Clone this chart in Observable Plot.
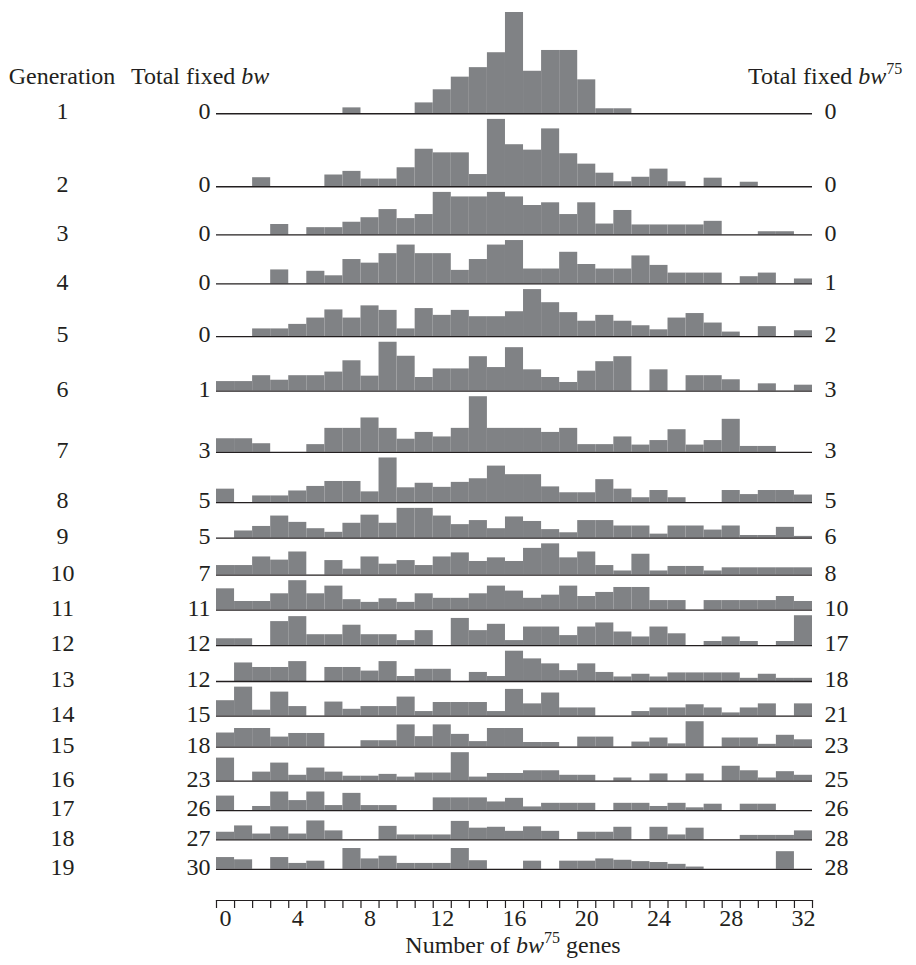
<!DOCTYPE html>
<html>
<head>
<meta charset="utf-8">
<script src="https://cdn.jsdelivr.net/npm/d3@7"></script>
<script src="https://cdn.jsdelivr.net/npm/@observablehq/plot@0.6"></script>
<style>
  html, body { margin: 0; padding: 0; background: #fff; }
  #wrap { position: relative; width: 916px; height: 965px; font-family: "Liberation Serif", "Times New Roman", serif; color: #231f20; }
  .lab { position: absolute; font-size: 24px; line-height: 1; white-space: nowrap; }
  .lab sup { font-size: 16px; position: relative; top: -3px; vertical-align: top; line-height: 1; }
</style>
</head>
<body>
<div id="wrap">
  <div class="lab" style="left:62px; top:76px; transform:translate(-50%,-50%);">Generation</div>
  <div class="lab" style="left:131px; top:76px; transform:translate(0,-50%);">Total fixed <i>bw</i></div>
  <div class="lab" style="left:748px; top:76px; transform:translate(0,-50%);">Total fixed <i>bw</i><sup>75</sup></div>
  <div class="lab" style="left:513px; top:945px; transform:translate(-50%,-50%);">Number of <i>bw</i><sup>75</sup> genes</div>
</div>
<script>
// ---- data: number of populations (bar height) per count of bw75 genes (0..32), one array per generation
const genes = d3.range(0, 33);
const g1  = [0,0,0,0,0,0,0,1.3,0,0,0,2.4,5.3,8.1,10.2,13.5,22.4,9.4,14,14,7.5,1.1,1.1,0,0,0,0,0,0,0,0,0,0];
const g2  = [0,0,2,0,0,0,2.6,3.4,1.7,1.7,4.2,8.3,7.5,7.5,2.7,14.9,9.3,8.1,12.8,7.3,5,3,1.1,2.1,3.9,1.1,0,1.9,0,1,0,0,0];
const g3  = [0,0,0,2.3,0,1.6,1.6,2.8,3.8,5.6,3.6,4.5,9.4,8.4,8.4,9.4,8.4,6.5,7.1,4.5,7.1,2.4,5.4,2.2,2.2,2.2,2.2,3,0,0,0.7,0.7,0];
const g4  = [0,0,0,3.1,0,2.8,1.8,5.4,4.6,6.7,8.6,6.7,6.7,3,5.4,8.6,9.6,3.3,3.3,7,4.3,3.3,3.3,6.2,4.1,2.4,2.4,2.4,0,1.6,2.4,0,1.1];
const g5  = [0,0,1.7,1.7,2.7,4.1,5.9,4.1,6.8,5.8,1.7,6.2,4.7,5.8,4.4,4.4,5.5,10.4,7.5,5.3,3.4,4.7,3.4,2.4,1.5,4.1,5.1,3,1,0,2.2,0,1.3];
const g6  = [2.1,2.1,3.4,2.4,3.4,3.4,4.2,6.7,3.3,10.8,7.7,3,4.9,4.9,7.6,5.2,9.6,4.7,3,1.9,4.4,6.5,7.6,0,4.7,0,3.4,3.4,2.5,0,1.6,0,1.3];
const g7  = [3,3,1.9,0,0,1.7,5.3,5.3,7.6,5.3,2.9,4.4,3.4,5.3,12.3,5.3,5.3,5.3,4.4,5.3,1.7,1.7,3.4,1.6,2.6,5,1.6,2.6,7.3,1.3,1.3,0,0];
const g8  = [3,0,1.5,1.5,2.6,3.6,4.7,4.7,2.4,9.9,3.3,4.3,3.4,4.5,5.3,8.1,6.2,6.2,3.5,2.2,2.2,5.1,3,1.1,2.7,1.1,0,0,2.7,1.8,2.7,2.7,1.7];
const g9  = [0,1.6,2.6,4.9,3.5,2.1,1.3,3.3,5.1,3.3,6.6,6.6,4.9,3,3.9,2.1,4.7,3.7,1.9,1.2,3.9,3.9,2.7,2.7,0.9,2.7,2.7,1.8,2.7,0.6,0.6,2.4,0.4];
const g10 = [2.1,2.1,4,3.3,5.1,0,3.2,1.3,4,2.4,3.2,2.1,4,4.9,3,3.8,3,5.9,6.9,3.8,5.1,2.1,0.9,4.6,0.9,1.9,1.9,0.9,1.6,1.6,1.6,1.6,1.6];
const g11 = [4.7,1.9,1.9,3.6,6.5,3.6,5.3,2.3,1.7,2.5,1.7,3.6,2.6,2.6,3.6,5.3,4.2,2.6,3.3,5.3,3,3.9,5,5,2.1,2.1,0,2.1,2.1,2.1,2.1,3,1.9];
const g12 = [1.5,1.5,0,5.3,6.4,2.4,2.4,4.5,2.4,2.4,1.1,3.3,0,6,3.3,4.7,1.1,4.1,4.1,2.2,4.1,5,3,1.9,4.1,2.6,0,0.9,1.9,0.9,0,0.9,6.6];
const g13 = [0,4.1,3.1,3.1,4.4,0,3.1,3.1,2.3,4.4,1.1,2.7,2.7,0,2,1.1,6.7,5,3.9,2.4,3.9,2,1,1.6,1,1.9,1.9,1.9,1.9,0.7,1.6,0.7,0.7];
const g14 = [3.4,6.4,1.3,5.3,2.1,0,3.1,1.5,2.1,2.1,4.2,1,3,3,3,1,5.9,2.7,5.1,1.8,1.8,0,0,1,1.8,1.8,2.5,1.8,0.7,1.8,2.7,0,2.7];
const g15 = [3.1,4.1,4.1,2.2,3,3,0,0,1.4,1.4,4.9,2.3,4.9,2.8,1.2,4.1,4.1,1,1,0,2.2,2.2,0,1.1,2,0.7,5.6,0,2,2,0.6,2.6,1.6];
const g16 = [5.1,0,2,4,1.3,2.9,2,1.1,1.1,1.5,0.9,1.8,1.8,6.3,0.9,1.7,1.7,2.3,2.3,1.3,1.3,0,0.7,0,1.6,0,1.6,0,3.3,2.3,0.7,2.1,1.3];
const g17 = [3.2,0,0.9,4.1,2.2,4.1,1.1,3.8,1.1,1.1,0,0,2.8,2.8,2.8,1.9,2.7,0.8,1.6,1.6,1.6,0,1.6,1.6,0.9,1.6,0.6,1.4,0,1.4,1.4,0,0];
const g18 = [1.7,3.1,1.3,2.9,1.3,4.2,2,0,0,3,1.1,1.1,1.1,4.1,2.6,2.8,1.9,2.9,1.9,0,1.7,1.7,2.8,0,2.8,1.1,2.6,0,0,1,1,1,2];
const g19 = [2.6,2.1,0,2.6,1.3,1.8,0,4.6,2.3,2.9,1.3,1.3,1.3,4.6,1.9,0,0,1.8,0,1.8,1.8,2.3,2,1.7,1.5,1.1,0.5,0,0,0,0,3.9,0];

const generations = d3.range(1, 20);
const fixedBw   = [0,0,0,0,0,1,3,5,5,7,11,12,12,15,18,23,26,27,30];
const fixedBw75 = [0,0,0,1,2,3,3,5,6,8,10,17,18,21,23,25,26,28,28];
const xTickLabels = [0,4,8,12,16,20,24,28,32];

// ---- layout constants (in bar-height units)
const GAP = 1.25, MIN_SPAN = 6.5, AXIS_PAD = 6.9;

const hists = [g1,g2,g3,g4,g5,g6,g7,g8,g9,g10,g11,g12,g13,g14,g15,g16,g17,g18,g19];
const bases = [];
let acc = d3.max(hists[0]);
bases.push(acc);
for (let k = 1; k < hists.length; k++) {
  acc += Math.max(d3.max(hists[k]) + GAP, MIN_SPAN);
  bases.push(acc);
}
const D = acc + AXIS_PAD;

const rows = generations.map((g, i) => ({gen: g, base: bases[i], left: fixedBw[i], right: fixedBw75[i]}));
const bars = [];
hists.forEach((h, i) => h.forEach((v, j) => { if (v > 0) bars.push({gen: i + 1, base: bases[i], n: genes[j], v}); }));

const ink = "#231f20";
const chart = Plot.plot({
  width: 916,
  height: 965,
  marginLeft: 216,
  marginRight: 104,
  marginTop: 12,
  marginBottom: 65,
  style: {fontFamily: "Liberation Serif, 'Times New Roman', serif", fontSize: "24px", color: ink, background: "transparent"},
  x: {domain: [-0.5, 32.5], axis: null},
  y: {domain: [0, D], reverse: true, axis: null},
  marks: [
    Plot.rect(bars, {x1: d => d.n - 0.5, x2: d => d.n + 0.5, y1: d => d.base - d.v, y2: "base", fill: "#808285"}),
    Plot.ruleY(rows, {y: "base", stroke: ink, strokeWidth: 1.3}),
    Plot.text(rows, {y: "base", frameAnchor: "left", text: d => String(d.gen), dx: -154, dy: -2, textAnchor: "middle", fontSize: 24, fill: ink}),
    Plot.text(rows, {y: "base", frameAnchor: "left", text: d => String(d.left), dx: -6, dy: -2, textAnchor: "end", fontSize: 24, fill: ink}),
    Plot.text(rows, {y: "base", frameAnchor: "right", text: d => String(d.right), dx: 12, dy: -2, textAnchor: "start", fontSize: 24, fill: ink}),
    Plot.frame({anchor: "bottom", stroke: ink, strokeWidth: 1.2}),
    Plot.axisX(d3.range(-0.5, 33, 1), {tickSize: 8, tickFormat: () => "", stroke: ink, strokeWidth: 1.2}),
    Plot.axisX(xTickLabels, {tickSize: 0, tickPadding: 8, fontSize: 24, fill: ink, label: null})
  ]
});
chart.style.position = "absolute";
chart.style.left = "0px";
chart.style.top = "0px";
document.getElementById("wrap").prepend(chart);
</script>
</body>
</html>
